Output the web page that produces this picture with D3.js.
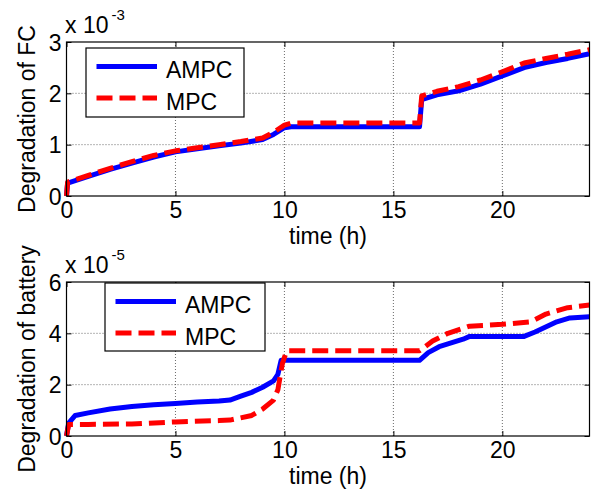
<!DOCTYPE html>
<html>
<head>
<meta charset="utf-8">
<script src="https://cdn.jsdelivr.net/npm/d3@7"></script>
<style>
body { margin: 0; background: #fff; }
text { font-family: "Liberation Sans", Arial, sans-serif; fill: #000; }
</style>
</head>
<body>
<script>
// data
var hourTicks = [0, 5, 10, 15, 20]
var fcTicks = [0, 1, 2, 3]
var battTicks = [0, 2, 4, 6]
var seriesNames = ["AMPC", "MPC"]

// fuel cell degradation (x 10^-3), both controllers on the same time grid
var fcTime = [0, 0.05, 1, 2, 3, 4, 5, 6, 7, 8, 9, 9.5, 10, 10.3, 16.2, 16.3, 17, 18, 19, 20, 21, 22, 23, 24]
var fcAmpc = [0, 0.25, 0.38, 0.52, 0.64, 0.76, 0.86, 0.92, 0.98, 1.03, 1.10, 1.20, 1.33, 1.35, 1.35, 1.88, 1.97, 2.05, 2.18, 2.34, 2.50, 2.60, 2.68, 2.77]
var fcMpc = [0, 0.27, 0.40, 0.54, 0.67, 0.79, 0.88, 0.94, 1.00, 1.06, 1.13, 1.24, 1.38, 1.42, 1.42, 1.95, 2.04, 2.13, 2.26, 2.42, 2.59, 2.68, 2.76, 2.85]

// battery degradation (x 10^-5)
var battTimeAmpc = [0, 0.1, 0.4, 1, 2, 3, 4, 5, 6, 7, 7.5, 8, 8.5, 9, 9.5, 9.7, 9.85, 16.2, 16.6, 17.1, 18.2, 18.5, 21, 21.5, 22.5, 23.1, 24]
var battAmpc = [0, 0.5, 0.8, 0.9, 1.05, 1.15, 1.22, 1.27, 1.32, 1.36, 1.4, 1.55, 1.7, 1.9, 2.15, 2.4, 2.95, 2.95, 3.25, 3.48, 3.77, 3.88, 3.88, 4.05, 4.45, 4.6, 4.65]
var battTimeMpc = [0, 0.1, 1, 3, 5, 7, 7.5, 8.5, 9, 9.5, 9.7, 9.9, 10.1, 16.2, 16.8, 17.5, 18.5, 20, 21.3, 22, 23, 24]
var battMpc = [0, 0.45, 0.45, 0.47, 0.55, 0.6, 0.62, 0.8, 1.05, 1.4, 1.8, 2.8, 3.32, 3.32, 3.7, 4.0, 4.28, 4.35, 4.45, 4.75, 5.0, 5.1]

var width = 594, height = 493
var plot = {left: 66.5, right: 589.5, h: 154}
var colors = {AMPC: "#0000ff", MPC: "#ff0000"}

var svg = d3.select("body").append("svg")
    .attr("width", width)
    .attr("height", height)

var x = d3.scaleLinear()
    .domain([0, 24])
    .range([plot.left, plot.right])

function zip(t, v) {
  return t.map(function(d, i) { return [d, v[i]] })
}

function drawPanel(top, ymax, yTicks, ylabel, expo, series, legendBox) {
  var y = d3.scaleLinear()
      .domain([0, ymax])
      .range([top + plot.h, top])

  var g = svg.append("g")

  // dotted grid
  g.selectAll(".gx")
    .data(hourTicks.slice(1))
    .enter().append("line")
      .attr("x1", function(d) { return x(d) })
      .attr("x2", function(d) { return x(d) })
      .attr("y1", top).attr("y2", top + plot.h)
      .attr("stroke", "#444").attr("stroke-width", 0.8)
      .attr("stroke-dasharray", "1,2")
  g.selectAll(".gy")
    .data(yTicks.slice(1, -1))
    .enter().append("line")
      .attr("x1", plot.left).attr("x2", plot.right)
      .attr("y1", function(d) { return y(d) })
      .attr("y2", function(d) { return y(d) })
      .attr("stroke", "#444").attr("stroke-width", 0.8)
      .attr("stroke-dasharray", "1,2")

  // axes, ticks pointing in, on all four sides
  var fmt = d3.format("d")
  var xb = g.append("g")
      .attr("transform", "translate(0," + (top + plot.h) + ")")
      .call(d3.axisBottom(x).tickValues(hourTicks).tickFormat(fmt).tickSizeInner(-5).tickSizeOuter(0))
  g.append("g")
      .attr("transform", "translate(0," + top + ")")
      .call(d3.axisTop(x).tickValues(hourTicks).tickSizeInner(-5).tickSizeOuter(0).tickFormat(""))
  var yl = g.append("g")
      .attr("transform", "translate(" + plot.left + ",0)")
      .call(d3.axisLeft(y).tickValues(yTicks).tickFormat(fmt).tickSizeInner(-5).tickSizeOuter(0))
  g.append("g")
      .attr("transform", "translate(" + plot.right + ",0)")
      .call(d3.axisRight(y).tickValues(yTicks).tickSizeInner(-5).tickSizeOuter(0).tickFormat(""))

  g.selectAll(".domain").remove()
  g.selectAll(".tick line").attr("stroke", "#000")
  g.selectAll(".tick text")
    .style("font-size", "23px")
    .style("font-family", "Liberation Sans, Arial, sans-serif")
    .attr("fill", "#000")
  xb.selectAll(".tick text").attr("y", 21.5).attr("dy", 0)
  yl.selectAll(".tick text").attr("x", -5).attr("dy", "0.35em")

  // data lines
  var line = d3.line()
      .x(function(d) { return x(d[0]) })
      .y(function(d) { return y(d[1]) })

  series.forEach(function(s) {
    g.append("path")
      .datum(s.values)
      .attr("d", line)
      .attr("fill", "none")
      .attr("stroke", colors[s.name])
      .attr("stroke-width", 5)
      .attr("stroke-linejoin", "round")
      .attr("stroke-dasharray", s.name == "MPC" ? "16,7" : null)
  })

  // box
  g.append("rect")
    .attr("x", plot.left).attr("y", top)
    .attr("width", plot.right - plot.left).attr("height", plot.h)
    .attr("fill", "none").attr("stroke", "#000").attr("stroke-width", 1.2)

  // exponent
  var ex = g.append("text")
    .attr("x", plot.left - 1.5)
    .attr("y", top - 9)
    .style("font-size", "23px")
    .text("x 10")
  ex.append("tspan")
    .attr("dy", -13)
    .attr("dx", 3)
    .style("font-size", "15px")
    .text(expo)

  // labels
  g.append("text")
    .attr("x", (plot.left + plot.right) / 2)
    .attr("y", top + plot.h + 48)
    .attr("text-anchor", "middle")
    .style("font-size", "23px")
    .text("time (h)")

  g.append("text")
    .attr("transform", "translate(35," + (top + plot.h / 2) + ") rotate(-90)")
    .attr("text-anchor", "middle")
    .style("font-size", "23px")
    .text(ylabel)

  // legend
  var lg = g.append("g")
  lg.append("rect")
    .attr("x", legendBox.x).attr("y", top + legendBox.y)
    .attr("width", legendBox.w).attr("height", legendBox.h)
    .attr("fill", "#fff").attr("stroke", "#000").attr("stroke-width", 1.2)
  seriesNames.forEach(function(name, i) {
    var ly = top + legendBox.y + 18.5 + i * 31.5
    lg.append("line")
      .attr("x1", legendBox.x + 10.5).attr("x2", legendBox.x + 71)
      .attr("y1", ly).attr("y2", ly)
      .attr("stroke", colors[name]).attr("stroke-width", 5)
      .attr("stroke-dasharray", name == "MPC" ? "16,7" : null)
    lg.append("text")
      .attr("x", legendBox.x + 80)
      .attr("y", ly + 11.5)
      .style("font-size", "23px")
      .text(name)
  })
}

drawPanel(42, 3, fcTicks, "Degradation of FC", "-3",
  [{name: "AMPC", values: zip(fcTime, fcAmpc)},
   {name: "MPC", values: zip(fcTime, fcMpc)}],
  {x: 86, y: 6, w: 158, h: 69})

drawPanel(282, 6, battTicks, "Degradation of battery", "-5",
  [{name: "AMPC", values: zip(battTimeAmpc, battAmpc)},
   {name: "MPC", values: zip(battTimeMpc, battMpc)}],
  {x: 105, y: 1, w: 160, h: 68})
</script>
</body>
</html>
